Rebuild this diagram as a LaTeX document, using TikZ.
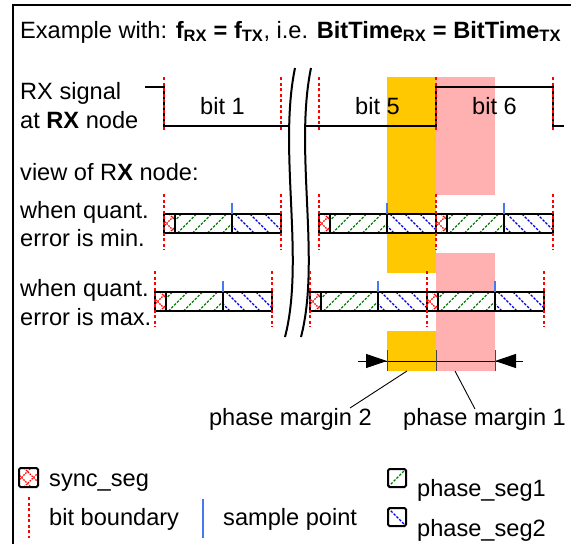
\documentclass[tikz,border=0pt]{standalone}
\usepackage{fontspec}
\setmainfont{Liberation Sans}
\usetikzlibrary{arrows.meta}
\definecolor{orng}{RGB}{255,200,0}
\definecolor{pnk}{RGB}{255,176,176}
\definecolor{segg}{RGB}{0,128,0}
\definecolor{segb}{RGB}{0,0,220}
\definecolor{smp}{RGB}{70,120,240}
\definecolor{tickgray}{RGB}{70,70,70}
\tikzset{
  lbl/.style={anchor=base west,inner sep=0pt,font=\fontsize{23.6}{29}\selectfont},
  lblc/.style={lbl,anchor=base},
  lble/.style={lbl,anchor=base east},
  sig/.style={line width=2pt,black},
  brk/.style={line width=2pt,black},
  bnd/.style={red,line width=1.7pt,dash pattern=on 3pt off 2.5pt},
  barline/.style={line width=2pt,black},
  synch/.style={red,line width=1.1pt,dash pattern=on 1.5pt off 1.2pt},
  seg1h/.style={segg,line width=1.2pt,dash pattern=on 2.5pt off 1.5pt},
  seg2h/.style={segb,line width=1.2pt,dash pattern=on 2.5pt off 1.5pt},
  samp/.style={smp,line width=2pt},
  dimline/.style={line width=1pt,black},
  dtick/.style={line width=0.9pt,tickgray},
  leader/.style={line width=0.9pt,black},
  icon/.style={line width=2pt,black,rounded corners=1.5pt}
}
\newcommand\bitcell[2]{%
  \pgfmathsetmacro\xa{#1}\pgfmathsetmacro\xb{#1+10.5}%
  \pgfmathsetmacro\xc{#1+68}\pgfmathsetmacro\xd{#1+117}%
  \fill[white] (\xa,#2) rectangle (\xd,#2+19);
  \begin{scope}
    \clip (\xa,#2) rectangle (\xb,#2+19);
    \foreach \k in {0,...,3}{\draw[synch] (\xa-19+\k*12,#2+19) -- ++(19,-19);
      \draw[synch] (\xa-19+\k*12,#2) -- ++(19,19);}
  \end{scope}
  \begin{scope}
    \clip (\xb,#2) rectangle (\xc,#2+19);
    \foreach \k in {0,...,5}{\draw[seg1h] (\xb-12+\k*15,#2+19) -- ++(19,-19);}
  \end{scope}
  \begin{scope}
    \clip (\xc,#2) rectangle (\xd,#2+19);
    \foreach \k in {0,...,4}{\draw[seg2h] (\xc-12+\k*15,#2) -- ++(19,19);}
  \end{scope}
  \draw[barline] (\xa,#2) rectangle (\xd,#2+19);
  \draw[barline] (\xb,#2) -- (\xb,#2+19) (\xc,#2) -- (\xc,#2+19);
  \draw[samp] (\xc,#2-11) -- (\xc,#2);
}
\begin{document}
\begin{tikzpicture}[x=1pt,y=-1pt]
\useasboundingbox (0,0) rectangle (571,544);
% phase margin areas
\fill[orng] (387,77) rectangle (436,273);
\fill[orng] (387,331) rectangle (436,371);
\fill[pnk] (436,77) rectangle (495,195);
\fill[pnk] (436,253) rectangle (495,371);
% frame
\draw[line width=2pt] (13,544) -- (13,5) -- (571,5);
% title
\node[lbl] (title) at (20,38) {Example with: \textbf{f\textsubscript{RX} = f\textsubscript{TX}}, i.e. \textbf{BitTime\textsubscript{RX} = BitTime\textsubscript{TX}}};
% left labels
\node[lbl] (rx1) at (20,99) {RX signal};
\node[lbl] (rx2) at (20,128) {at \textbf{RX} node};
\node[lbl] (view) at (20,180) {view of R\textbf{X} node:};
\node[lbl] (wq1) at (20,218) {when quant.};
\node[lbl] (emin) at (20,246) {error is min.};
\node[lbl] (wq2) at (20,296) {when quant.};
\node[lbl] (emax) at (20,325) {error is max.};
% signal
\draw[sig] (145,87) -- (164,87) -- (164,126) -- (436,126) -- (436,87) -- (553,87) -- (553,126) -- (564,126);
% break
\fill[white] (295,68) .. controls (278,150) and (305,260) .. (285,337) -- (301,337) .. controls (321,260) and (294,150) .. (311,68) -- cycle;
\draw[brk] (295,68) .. controls (278,150) and (305,260) .. (285,337);
\draw[brk] (311,68) .. controls (294,150) and (321,260) .. (301,337);
% bit labels
\node[lblc] (b1) at (222.5,114) {bit 1};
\node[lblc] (b5) at (377.5,114) {bit 5};
\node[lblc] (b6) at (494.5,114) {bit 6};
% bars
\bitcell{164}{214}
\bitcell{319}{214}
\bitcell{436}{214}
\bitcell{155}{292}
\bitcell{310}{292}
\bitcell{427}{292}
% bit boundaries
\foreach \x in {164,281,319,436,553}{\draw[bnd] (\x,77) -- (\x,131);}
\foreach \x in {164,281,319,436,553}{\draw[bnd] (\x,194) -- (\x,250);}
\foreach \x in {155,272,310,427,544}{\draw[bnd] (\x,271) -- (\x,327);}
% dimension
\coordinate (dl) at (358,361);
\coordinate (dr) at (523,361);
\coordinate (ma) at (387,361);
\coordinate (mb) at (436,361);
\coordinate (mc) at (495,361);
\draw[dimline] (dl) -- (dr);
\draw[dimline,-{Triangle[length=21pt,width=14pt]}] (dl) -- (ma);
\draw[dimline,-{Triangle[length=21pt,width=14pt]}] (dr) -- (mc);
\foreach \x in {387,436,495}{\draw[dtick] (\x,350) -- (\x,371);}
% margin labels
\node[lble] (pm2) at (372,425) {phase margin 2};
\node[lbl] (pm1) at (403,425) {phase margin 1};
\coordinate (l2a) at (407,371);
\coordinate (l2b) at (350,408);
\coordinate (l1a) at (455,371);
\coordinate (l1b) at (475,409);
\draw[leader] (l2a) -- (l2b);
\draw[leader] (l1a) -- (l1b);
% legend
\begin{scope}
  \clip (19,468) rectangle (38,487);
  \foreach \k in {0,...,3}{\draw[synch] (19-19+\k*12,487) -- ++(19,-19);
    \draw[synch] (19-19+\k*12,468) -- ++(19,19);}
\end{scope}
\draw[icon] (19,468) rectangle (38,487);
\node[lbl] (lsync) at (49,486) {sync\_seg};
\draw[bnd] (29,497) -- (29,538);
\node[lbl] (lbnd) at (49,525) {bit boundary};
\draw[samp] (203,499) -- (203,538);
\node[lbl] (lsmp) at (223,525) {sample point};
\begin{scope}
  \clip (388,469) rectangle (406,487);
  \draw[seg1h] (388,487) -- (406,469);
\end{scope}
\draw[icon] (388,469) rectangle (406,487);
\node[lbl] (lps1) at (417,496) {phase\_seg1};
\begin{scope}
  \clip (388,508) rectangle (406,526);
  \draw[seg2h] (388,508) -- (406,526);
\end{scope}
\draw[icon] (388,508) rectangle (406,526);
\node[lbl] (lps2) at (417,536) {phase\_seg2};
\end{tikzpicture}
\end{document}
